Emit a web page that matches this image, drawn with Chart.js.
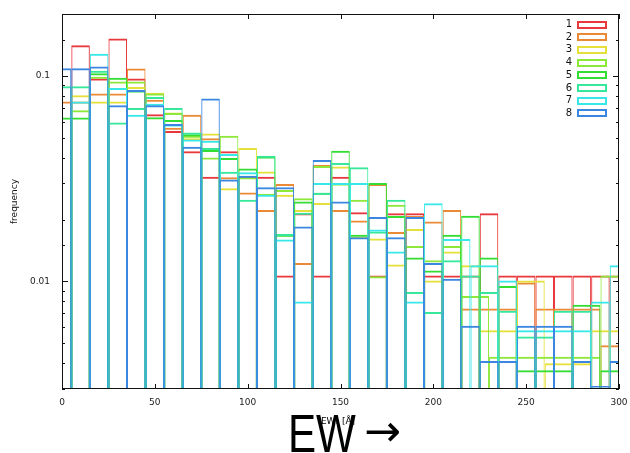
<!DOCTYPE html>
<html>
<head>
<meta charset="utf-8">
<script src="https://cdn.jsdelivr.net/npm/chart.js@4.4.1/dist/chart.umd.min.js"></script>
<style>
  body { margin: 0; background: #fff; }
  #wrap { width: 630px; height: 453px; }
</style>
</head>
<body>
<div id="wrap"><canvas id="chart" width="630" height="453"></canvas></div>
<script>
// EW histogram, 8 samples, drawn as empty boxes on a log axis

const ewBins = [0, 10, 20, 30, 40, 50, 60, 70, 80, 90, 100, 110, 120, 130, 140, 150,
                160, 170, 180, 190, 200, 210, 220, 230, 240, 250, 260, 270, 280, 290, 300];

const seriesNames = ['1', '2', '3', '4', '5', '6', '7', '8'];
const seriesColors = ['#e8383d', '#eb8a36', '#e6e03a', '#8ee83a', '#33dd33', '#37e89a', '#38e8e8', '#3a86e0'];

// 0 = empty bin (below the log range, gnuplot skips it)
const freq1 = [0, 0.141, 0.097, 0.152, 0.097, 0.065, 0.054, 0.043, 0.0323, 0.043, 0.0323, 0.0323, 0.0107, 0.0215, 0.0107, 0.0323,
               0.0217, 0.0107, 0.0215, 0.0215, 0.0107, 0.0107, 0.0107, 0.0215, 0.0107, 0.0107, 0.0107, 0.0107, 0.0107, 0.0107, 0.0107];
const freq2 = [0.075, 0.075, 0.082, 0.082, 0.1085, 0.0765, 0.056, 0.0647, 0.0497, 0.0321, 0.0271, 0.0223, 0.0298, 0.0123, 0.0369, 0.0223,
               0.0198, 0.0298, 0.0174, 0.0208, 0.0196, 0.0223, 0.0074, 0.0074, 0.0074, 0.0099, 0.0074, 0.0074, 0.0074, 0, 0.0049];
const freq3 = [0, 0.0805, 0.075, 0.075, 0.0884, 0.0827, 0.0664, 0.0497, 0.0525, 0.0284, 0.0446, 0.0343, 0.0264, 0.0223, 0.0241, 0.0363,
               0.0165, 0.0162, 0.0121, 0.018, 0.0101, 0.014, 0.012, 0.0058, 0.0058, 0.0101, 0, 0.004, 0.004, 0.0058, 0.0058];
const freq4 = [0, 0.068, 0.099, 0.094, 0.0938, 0.082, 0.066, 0.0512, 0.0401, 0.0512, 0.0321, 0.0267, 0.0279, 0.0254, 0.0365, 0.030,
               0.025, 0.0106, 0.0236, 0.0149, 0.0127, 0.0149, 0.0085, 0, 0.0043, 0, 0, 0.0043, 0.0043, 0, 0.0107];
const freq5 = [0.0627, 0.0627, 0.103, 0.098, 0.085, 0.063, 0.061, 0.052, 0.0436, 0.0399, 0.0354, 0.0405, 0.0169, 0.0245, 0.027, 0.0433,
               0.0169, 0.0301, 0.0208, 0.0131, 0.0113, 0.0169, 0.0209, 0.0131, 0.0095, 0.0037, 0.0037, 0.0037, 0.0077, 0, 0.0037];
const freq6 = [0.089, 0.089, 0.106, 0.0593, 0.0697, 0.079, 0.0697, 0.0531, 0.0446, 0.0342, 0.025, 0.0409, 0.017, 0.0216, 0.027, 0.0377,
               0.0359, 0.0175, 0.025, 0.0089, 0.0071, 0.0127, 0.0107, 0.0089, 0.0072, 0.0054, 0.0054, 0.0072, 0.0072, 0, 0];
const freq7 = [0, 0.075, 0.128, 0.0872, 0.0647, 0.0733, 0.058, 0.049, 0.0484, 0.0417, 0.034, 0.0264, 0.016, 0.008, 0.0301, 0.0301,
               0.0301, 0.0179, 0.014, 0.008, 0.024, 0.0161, 0, 0.012, 0.0101, 0.0058, 0.0058, 0.0058, 0.0058, 0.008, 0.012];
const freq8 = [0.109, 0.109, 0.111, 0.072, 0.0855, 0.072, 0.0583, 0.0452, 0.0776, 0.0313, 0.0327, 0.0287, 0.0287, 0.0185, 0.039, 0.0245,
               0.0164, 0.0206, 0.0164, 0.0206, 0.0123, 0.0103, 0.0061, 0.0041, 0.0041, 0.0061, 0.0061, 0.0061, 0.0041, 0.0031, 0.0041];

const allFreqs = [freq1, freq2, freq3, freq4, freq5, freq6, freq7, freq8];

const xTicks = [0, 50, 100, 150, 200, 250, 300];
const yLabelled = [0.1, 0.01];

const AREA = { left: 62, top: 14, right: 619, bottom: 389 };
const FONT = 'DejaVu Sans';

function isDecade(v) {
    const l = Math.log10(v);
    return Math.abs(l - Math.round(l)) < 1e-6;
}

// all series share one stack id, so the boxes overlap instead of sitting side by side;
// 'flex' width makes a box stretch over the empty bins next to it (gnuplot auto box width)
const datasets = allFreqs.map((vals, i) => ({
    label: seriesNames[i],
    stack: 'all',
    data: ewBins.map((x, k) => ({ x: x, y: vals[k] })).filter(p => p.y > 0),
    borderColor: seriesColors[i],
    backgroundColor: 'rgba(0,0,0,0)',
    borderWidth: { top: 2, left: 1, right: 1, bottom: 0 },
    borderSkipped: false,
    inflateAmount: 0,
    barThickness: 'flex',
    categoryPercentage: 1,
    barPercentage: 1,
    order: 7 - i,   // red drawn first, blue on top
    clip: 0
}));

const scales = {
    x: {
        type: 'linear', min: 0, max: 300, offset: false,
        afterBuildTicks: s => { s.ticks = xTicks.map(v => ({ value: v })); },
        afterFit: s => {
            s.height = 453 - AREA.bottom;
            s.paddingLeft = 0;
            s.paddingRight = 0;
        },
        grid: { display: false, drawTicks: false, offset: false },
        border: { display: false },
        ticks: { padding: 8, color: '#222', font: { family: FONT, size: 9 }, maxRotation: 0 }
    },
    y: {
        type: 'logarithmic', min: 0.003, max: 0.2, stacked: false,
        afterFit: s => {
            s.width = AREA.left;
            s.paddingTop = 0;
            s.paddingBottom = 0;
        },
        grid: { display: false, drawTicks: false },
        border: { display: false },
        ticks: {
            autoSkip: false, padding: 12, color: '#222',
            font: { family: FONT, size: 9 },
            callback: v => yLabelled.some(t => Math.abs(t - v) < 1e-9) ? String(v) : ''
        },
        title: { display: true, text: 'frequency', color: '#111', font: { family: FONT, size: 9 }, padding: { top: 9, bottom: 0 } }
    }
};

const framePlugin = {
    id: 'frame',
    afterDatasetsDraw(chart) {
        const { ctx, chartArea: a } = chart;
        const xs = chart.scales.x, ys = chart.scales.y;
        ctx.save();
        ctx.strokeStyle = '#111';
        ctx.lineWidth = 1;
        ctx.strokeRect(a.left + 0.5, a.top + 0.5, a.right - a.left - 1, a.bottom - a.top - 1);
        ctx.beginPath();
        xTicks.forEach(v => {
            const px = Math.round(xs.getPixelForValue(v)) + 0.5;
            ctx.moveTo(px, a.bottom); ctx.lineTo(px, a.bottom - 5);
            ctx.moveTo(px, a.top); ctx.lineTo(px, a.top + 5);
        });
        ys.ticks.forEach(t => {
            const py = Math.round(ys.getPixelForValue(t.value)) + 0.5;
            const len = isDecade(t.value) ? 6 : 3;
            ctx.moveTo(a.left, py); ctx.lineTo(a.left + len, py);
            ctx.moveTo(a.right, py); ctx.lineTo(a.right - len, py);
        });
        ctx.stroke();
        ctx.restore();
    },
    afterDraw(chart) {
        const { ctx } = chart;
        ctx.save();
        // legend, top right inside the plot
        ctx.font = '10px ' + FONT;
        ctx.textAlign = 'right';
        ctx.textBaseline = 'middle';
        seriesNames.forEach((name, i) => {
            const cy = 24.5 + i * 12.7;
            ctx.fillStyle = '#111';
            ctx.fillText(name, 572, cy);
            ctx.strokeStyle = seriesColors[i];
            ctx.lineWidth = 2;
            ctx.strokeRect(578, Math.round(cy) - 3, 28, 6);
        });
        // big axis caption with the small gnuplot label over it
        ctx.fillStyle = '#000';
        ctx.textAlign = 'left';
        ctx.textBaseline = 'alphabetic';
        ctx.save();
        ctx.translate(288, 452);
        ctx.scale(0.78, 1);
        ctx.font = '54px "Liberation Sans"';
        ctx.fillText('EW', 0, 0);
        ctx.restore();
        ctx.font = '44px "DejaVu Sans"';
        ctx.fillText('→', 364, 446);
        ctx.font = '9px ' + FONT;
        ctx.textAlign = 'center';
        ctx.textBaseline = 'middle';
        ctx.fillText('EW₀ [Å]', 338, 422);
        ctx.restore();
    }
};

new Chart(document.getElementById('chart'), {
    type: 'bar',
    data: { datasets: datasets },
    options: {
        responsive: false,
        animation: false,
        devicePixelRatio: 1,
        layout: { padding: { left: 0, top: AREA.top, right: 630 - AREA.right, bottom: 0 } },
        plugins: { legend: { display: false }, tooltip: { enabled: false } },
        scales: scales
    },
    plugins: [framePlugin]
});
</script>
</body>
</html>
